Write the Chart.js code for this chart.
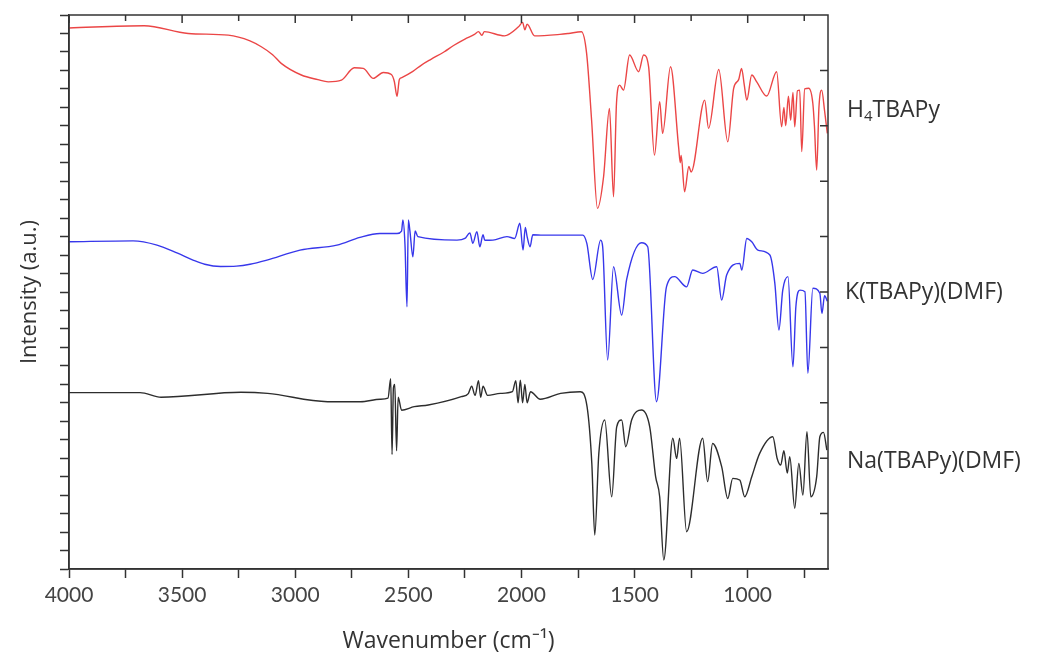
<!DOCTYPE html>
<html lang="en">
<head>
<meta charset="UTF-8">
<title>FTIR spectra</title>
<script src="https://cdn.jsdelivr.net/npm/chart.js"></script>
<style>
  html, body { margin: 0; padding: 0; background: #fff; }
  #wrap { width: 1059px; height: 655px; }
</style>
</head>
<body>
<div id="wrap"><canvas id="ftirChart" width="1059" height="655"></canvas></div>
<script>
// spectra: wavenumber (cm-1) and stacked intensity (a.u.)
var wnH4 = [4000, 3668, 3473, 3296, 3200, 3150, 3100, 3062, 2973, 2900, 2854, 2796, 2739, 2699, 2655, 2611, 2575, 2562, 2550, 2540, 2531,
  2480, 2442, 2400, 2341, 2300, 2250, 2208, 2190, 2175, 2164, 2075, 2013, 1995, 1985, 1975, 1942, 1830, 1792, 1735, 1712, 1690, 1664, 1637,
  1611, 1593, 1580, 1566, 1549, 1522, 1482, 1460, 1438, 1412, 1389, 1376, 1341, 1305, 1298, 1294, 1279, 1260, 1250,
  1190, 1173, 1128, 1088, 1062, 1040, 1027, 1015, 1004, 982, 960, 916, 872, 850, 840, 832, 820, 810, 800, 792, 780,
  770, 761, 748, 730, 712, 705, 695, 685, 673, 660, 648];
var intH4 = [29.3, 29.42, 29.0, 28.91, 28.6, 28.28, 27.85, 27.38, 26.75, 26.5, 26.38, 26.47, 27.14, 27.11, 26.57, 26.89, 26.78, 26.4, 25.6, 26.5, 26.6,
  26.95, 27.29, 27.6, 28.01, 28.35, 28.7, 28.95, 29.1, 28.9, 29.1, 28.87, 29.36, 29.6, 29.2, 29.5, 28.87, 28.95, 29.0, 29.09, 27.92, 24.31, 19.53, 21.24,
  24.94, 20.16, 25.21, 26.2, 25.93, 27.83, 26.93, 27.83, 27.2, 22.41, 25.3, 23.59, 27.2, 22.8, 22.0, 22.4, 20.43, 21.8, 21.5,
  25.39, 23.86, 27.05, 23.14, 26.03, 26.5, 27.11, 26.2, 25.39, 26.75, 26.38, 25.61, 26.93, 23.95, 25.0, 24.0, 25.6, 24.3, 25.8, 23.95, 25.9,
  25.93, 22.6, 26.0, 26.03, 25.21, 24.0, 21.6, 25.0, 25.93, 24.8, 23.59];

var wnK = [4000, 3717, 3611, 3520, 3452, 3400, 3330, 3260, 3200, 3125, 2979, 2816, 2714, 2626, 2550, 2530, 2524, 2515, 2506, 2500, 2493, 2480,
  2470, 2458, 2285, 2250, 2228, 2215, 2197, 2184, 2170, 2162, 2126, 2064, 2030, 2007, 1993, 1983, 1975, 1962, 1950, 1905,
  1830, 1786, 1729, 1711, 1685, 1650, 1641, 1619, 1593, 1557, 1535, 1469, 1442, 1403, 1359, 1323, 1270, 1243, 1199, 1137,
  1115, 1093, 1035, 1026, 1004, 982, 955, 902, 880, 862, 845, 822, 800, 787, 769, 747, 734, 712, 681, 672, 660, 648];
var intK = [17.72, 17.77, 17.54, 17.1, 16.73, 16.5, 16.38, 16.4, 16.5, 16.73, 17.27, 17.54, 17.96, 18.17, 18.17, 18.3, 18.9, 17.6, 14.2, 18.9, 18.3, 16.9,
  18.3, 18.0, 17.81, 17.9, 18.2, 17.64, 18.27, 17.45, 18.1, 17.8, 17.81, 18.0, 17.9, 18.72, 17.27, 18.5, 18.0, 17.45, 18.1, 18.08,
  18.08, 18.08, 18.08, 17.63, 15.68, 17.81, 17.45, 11.32, 16.37, 13.75, 15.68, 17.67, 17.45, 9.06, 15.28, 15.83, 15.28, 16.19, 16.01, 16.37,
  14.56, 15.92, 16.55, 16.19, 17.9, 17.72, 17.27, 17.0, 15.47, 12.94, 15.1, 15.83, 10.95, 14.2, 15.1, 15.01, 10.6, 15.2, 14.93, 13.84, 14.8, 14.5];

var wnNa = [4000, 3686, 3593, 3240, 3122, 2857, 2712, 2624, 2590, 2578, 2572, 2566, 2560, 2552, 2545, 2530, 2474, 2412, 2266,
  2235, 2220, 2205, 2190, 2180, 2170, 2150, 2093, 2040, 2025, 2015, 2005, 1995, 1985, 1975, 1960, 1917, 1827, 1740, 1710,
  1689, 1676, 1658, 1632, 1601, 1579, 1557, 1539, 1513, 1469, 1433, 1407, 1389, 1371, 1331, 1314, 1301, 1270, 1199, 1177,
  1155, 1115, 1088, 1066, 1035, 1013, 982, 947, 889, 870, 854, 840, 825, 814, 792, 774, 756, 738, 721, 695, 681, 665, 650];
var intNa = [9.55, 9.55, 9.3, 9.57, 9.51, 9.06, 9.06, 9.19, 9.25, 10.3, 6.2, 9.8, 10.0, 6.4, 9.3, 8.6, 8.79, 8.88, 9.33,
  9.5, 9.9, 9.4, 10.2, 9.3, 9.9, 9.4, 9.51, 9.6, 10.2, 9.0, 10.23, 9.0, 10.0, 9.0, 9.6, 9.19, 9.51, 9.6, 8.79,
  5.72, 1.84, 6.26, 8.07, 3.91, 7.7, 8.07, 6.62, 8.07, 8.61, 7.7, 5.0, 3.91, 0.49, 7.08, 5.99, 7.08, 2.02, 7.08, 4.73,
  6.8, 5.54, 3.82, 4.91, 4.82, 3.91, 5.0, 6.26, 7.16, 6.0, 5.63, 6.4, 5.2, 6.08, 3.29, 5.72, 4.0, 7.43, 3.91, 5.0, 7.16, 7.4, 6.44];

var seriesNames = ['H4TBAPy', 'K(TBAPy)(DMF)', 'Na(TBAPy)(DMF)'];
var seriesColors = ['rgb(235,70,70)', 'rgb(55,55,235)', 'rgb(45,45,45)'];
var xMajor = [4000, 3500, 3000, 2500, 2000, 1500, 1000];
var xMinor = [3750, 3250, 2750, 2250, 1750, 1250, 750];

function toPoints(xs, ys) {
    return xs.map(function (v, i) { return { x: v, y: ys[i] }; });
}

var axisColor = '#333';

// frame, inner ticks on top/right and the curve names
var framePlugin = {
    id: 'frame',
    afterDraw: function (chart) {
        var ctx = chart.ctx;
        var a = chart.chartArea;
        var xs = chart.scales.x, ys = chart.scales.y;
        ctx.save();
        ctx.strokeStyle = axisColor;
        ctx.lineWidth = 1.5;
        ctx.strokeRect(a.left, a.top, a.right - a.left, a.bottom - a.top);
        ctx.beginPath();
        xMajor.forEach(function (v) {
            var px = xs.getPixelForValue(v);
            ctx.moveTo(px, a.top); ctx.lineTo(px, a.top + 8);
        });
        xMinor.forEach(function (v) {
            var px = xs.getPixelForValue(v);
            ctx.moveTo(px, a.top); ctx.lineTo(px, a.top + 6);
        });
        for (var v = 3; v < 30; v += 3) {
            var py = ys.getPixelForValue(v);
            ctx.moveTo(a.right, py); ctx.lineTo(a.right - 8, py);
        }
        ctx.stroke();

        ctx.fillStyle = '#333';
        ctx.textBaseline = 'middle';
        ctx.textAlign = 'left';
        var lx = a.right + 19;
        var big = '23px "Open Sans"';
        // H4TBAPy with subscript
        var y0 = ys.getPixelForValue(24.85);
        ctx.font = big;
        ctx.fillText('H', lx, y0);
        var w = ctx.measureText('H').width;
        ctx.font = '15px "Open Sans"';
        ctx.fillText('4', lx + w, y0 + 7);
        var w4 = ctx.measureText('4').width;
        ctx.font = big;
        ctx.fillText('TBAPy', lx + w + w4, y0);
        ctx.fillText(seriesNames[1], lx - 2, ys.getPixelForValue(14.95));
        ctx.fillText(seriesNames[2], lx, ys.getPixelForValue(5.85));
        ctx.restore();
    }
};

var ctx = document.getElementById('ftirChart').getContext('2d');
var ftirChart = new Chart(ctx, {
    type: 'line',
    data: {
        datasets: [
            { label: seriesNames[0], data: toPoints(wnH4, intH4), borderColor: seriesColors[0] },
            { label: seriesNames[1], data: toPoints(wnK, intK), borderColor: seriesColors[1] },
            { label: seriesNames[2], data: toPoints(wnNa, intNa), borderColor: seriesColors[2] }
        ]
    },
    options: {
        responsive: false,
        animation: false,
        layout: { padding: { top: 15, right: 231, left: 0, bottom: 0 } },
        elements: {
            point: { radius: 0 },
            line: { borderWidth: 1.4, cubicInterpolationMode: 'monotone', fill: false }
        },
        plugins: {
            legend: { display: false },
            tooltip: { enabled: false }
        },
        scales: {
            x: {
                type: 'linear',
                reverse: true,
                min: 645,
                max: 4000,
                afterBuildTicks: function (s) {
                    s.ticks = xMajor.concat(xMinor).sort(function (p, q) { return q - p; })
                        .map(function (v) { return { value: v }; });
                },
                afterFit: function (s) { s.height = 86; },
                ticks: {
                    autoSkip: false,
                    maxRotation: 0,
                    padding: 5,
                    color: '#444',
                    font: { family: 'Lato', size: 21 },
                    callback: function (v) { return xMajor.indexOf(v) >= 0 ? String(v) : ''; }
                },
                grid: { drawOnChartArea: false, tickLength: 9, tickColor: axisColor, tickWidth: 1.5 },
                border: { color: axisColor, width: 1.5 },
                title: {
                    display: true,
                    text: 'Wavenumber (cm\u207B\u00B9)',
                    color: '#333',
                    font: { family: 'Open Sans', size: 23 },
                    padding: { top: 0, bottom: 0 }
                }
            },
            y: {
                min: 0,
                max: 30,
                afterBuildTicks: function (s) {
                    var t = [];
                    for (var i = 0; i <= 30; i++) t.push({ value: i });
                    s.ticks = t;
                },
                afterFit: function (s) { s.width = 69; },
                ticks: { display: false },
                grid: { drawOnChartArea: false, tickLength: 9, tickColor: axisColor, tickWidth: 1.5 },
                border: { color: axisColor, width: 1.5 },
                title: {
                    display: true,
                    text: 'Intensity (a.u.)',
                    color: '#333',
                    font: { family: 'Open Sans', size: 22 },
                    padding: { top: 17, bottom: 0 }
                }
            }
        }
    },
    plugins: [framePlugin]
});
</script>
</body>
</html>
